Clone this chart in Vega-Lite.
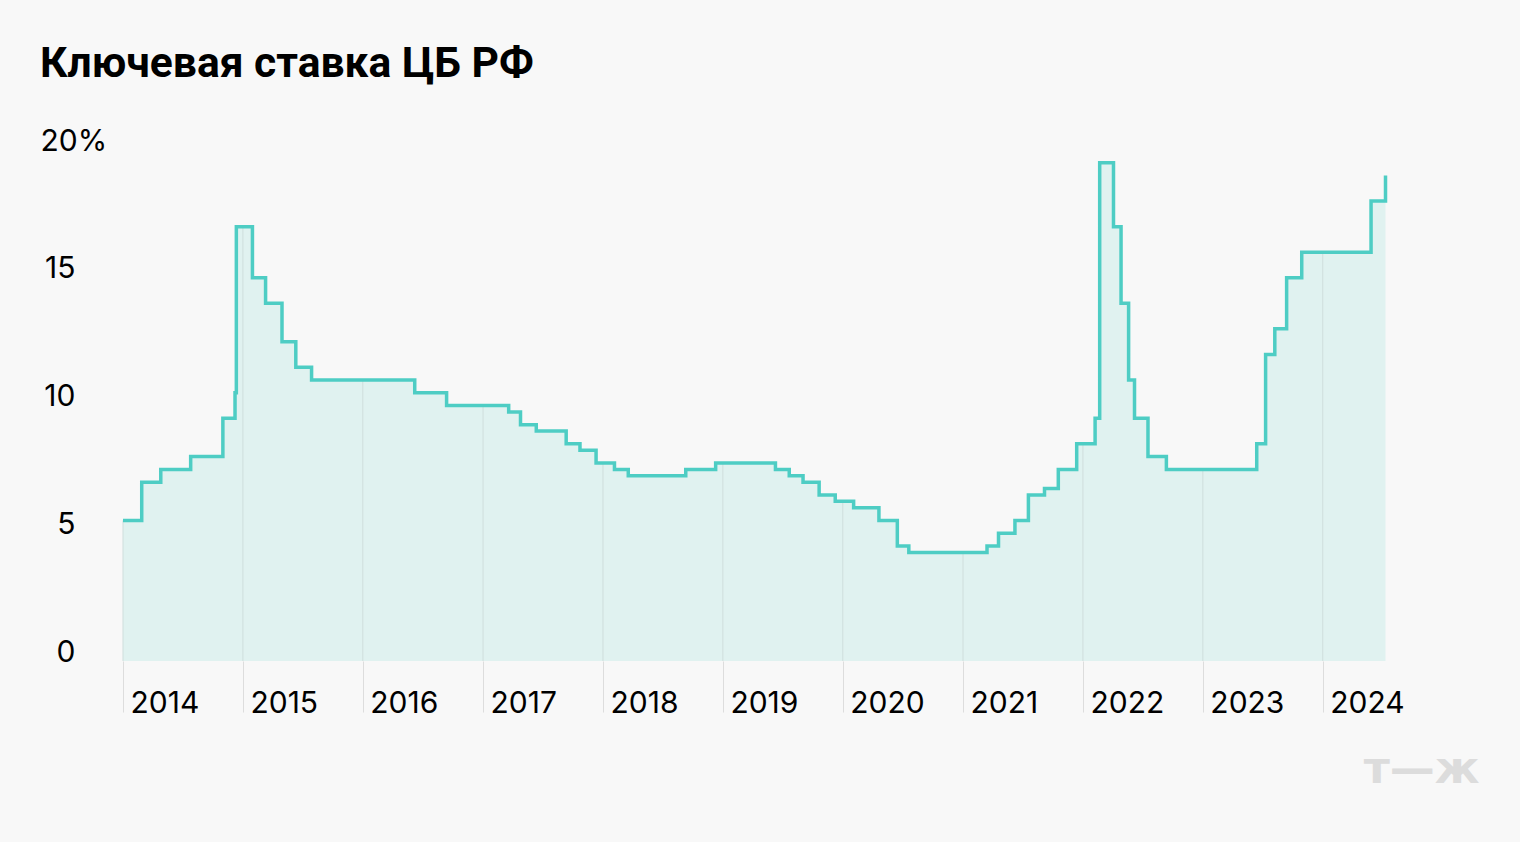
{
  "$schema": "https://vega.github.io/schema/vega-lite/v6.json",
  "width": 1320,
  "height": 511,
  "autosize": {"type": "none"},
  "padding": {"left": 123, "top": 150, "right": 77, "bottom": 181},
  "background": "#f8f8f8",
  "config": {"view": {"stroke": null}, "font": "Roboto"},
  "title": {
    "text": "Ключевая ставка ЦБ РФ",
    "anchor": "start",
    "frame": "bounds",
    "fontSize": 42.6,
    "fontWeight": "bold",
    "font": "Roboto",
    "color": "#000000",
    "baseline": "alphabetic",
    "offset": 6
  },
  "datasets": {
    "rate": [
      {"date": "2014-01-01", "rate": 5.5},
      {"date": "2014-02-27", "rate": 7.0},
      {"date": "2014-04-26", "rate": 7.5},
      {"date": "2014-07-26", "rate": 8.0},
      {"date": "2014-11-01", "rate": 9.5},
      {"date": "2014-12-08", "rate": 10.5},
      {"date": "2014-12-12", "rate": 17.0},
      {"date": "2015-01-30", "rate": 15.0},
      {"date": "2015-03-11", "rate": 14.0},
      {"date": "2015-04-30", "rate": 12.5},
      {"date": "2015-06-11", "rate": 11.5},
      {"date": "2015-07-29", "rate": 11.0},
      {"date": "2016-06-07", "rate": 10.5},
      {"date": "2016-09-12", "rate": 10.0},
      {"date": "2017-03-20", "rate": 9.75},
      {"date": "2017-04-25", "rate": 9.25},
      {"date": "2017-06-12", "rate": 9.0},
      {"date": "2017-09-11", "rate": 8.5},
      {"date": "2017-10-23", "rate": 8.25},
      {"date": "2017-12-11", "rate": 7.75},
      {"date": "2018-02-05", "rate": 7.5},
      {"date": "2018-03-19", "rate": 7.25},
      {"date": "2018-09-10", "rate": 7.5},
      {"date": "2018-12-10", "rate": 7.75},
      {"date": "2019-06-10", "rate": 7.5},
      {"date": "2019-07-22", "rate": 7.25},
      {"date": "2019-09-02", "rate": 7.0},
      {"date": "2019-10-21", "rate": 6.5},
      {"date": "2019-12-09", "rate": 6.25},
      {"date": "2020-02-03", "rate": 6.0},
      {"date": "2020-04-20", "rate": 5.5},
      {"date": "2020-06-15", "rate": 4.5},
      {"date": "2020-07-20", "rate": 4.25},
      {"date": "2021-03-15", "rate": 4.5},
      {"date": "2021-04-19", "rate": 5.0},
      {"date": "2021-06-08", "rate": 5.5},
      {"date": "2021-07-19", "rate": 6.5},
      {"date": "2021-09-06", "rate": 6.75},
      {"date": "2021-10-18", "rate": 7.5},
      {"date": "2021-12-13", "rate": 8.5},
      {"date": "2022-02-07", "rate": 9.5},
      {"date": "2022-02-21", "rate": 19.5},
      {"date": "2022-04-04", "rate": 17.0},
      {"date": "2022-04-27", "rate": 14.0},
      {"date": "2022-05-20", "rate": 11.0},
      {"date": "2022-06-07", "rate": 9.5},
      {"date": "2022-07-18", "rate": 8.0},
      {"date": "2022-09-12", "rate": 7.5},
      {"date": "2023-06-14", "rate": 8.5},
      {"date": "2023-07-11", "rate": 12.0},
      {"date": "2023-08-08", "rate": 13.0},
      {"date": "2023-09-13", "rate": 15.0},
      {"date": "2023-10-29", "rate": 16.0},
      {"date": "2024-05-27", "rate": 18.0},
      {"date": "2024-07-10", "rate": 19.0}
    ],
    "grid": [
      {"date": "2014-01-01", "rate": 5.5},
      {"date": "2015-01-01", "rate": 17.0},
      {"date": "2016-01-01", "rate": 11.0},
      {"date": "2017-01-01", "rate": 10.0},
      {"date": "2018-01-01", "rate": 7.75},
      {"date": "2019-01-01", "rate": 7.75},
      {"date": "2020-01-01", "rate": 6.25},
      {"date": "2021-01-01", "rate": 4.25},
      {"date": "2022-01-01", "rate": 8.5},
      {"date": "2023-01-01", "rate": 7.5},
      {"date": "2024-01-01", "rate": 16.0}
    ]
  },
  "encoding": {
    "x": {
      "field": "date",
      "type": "temporal",
      "scale": {
        "type": "utc",
        "domain": [
          {"year": 2014, "month": 1, "date": 1, "utc": true},
          {"year": 2025, "month": 1, "date": 1, "utc": true}
        ]
      },
      "axis": {
        "title": "т—ж",
        "values": [
          {"year": 2014, "month": 1, "date": 1, "utc": true},
          {"year": 2015, "month": 1, "date": 1, "utc": true},
          {"year": 2016, "month": 1, "date": 1, "utc": true},
          {"year": 2017, "month": 1, "date": 1, "utc": true},
          {"year": 2018, "month": 1, "date": 1, "utc": true},
          {"year": 2019, "month": 1, "date": 1, "utc": true},
          {"year": 2020, "month": 1, "date": 1, "utc": true},
          {"year": 2021, "month": 1, "date": 1, "utc": true},
          {"year": 2022, "month": 1, "date": 1, "utc": true},
          {"year": 2023, "month": 1, "date": 1, "utc": true},
          {"year": 2024, "month": 1, "date": 1, "utc": true}
        ],
        "labelExpr": "utcFormat(datum.value, '%Y')",
        "domain": false,
        "grid": false,
        "ticks": true,
        "tickSize": 51,
        "tickColor": "#dddddd",
        "tickWidth": 1,
        "labelAlign": "left",
        "labelBaseline": "alphabetic",
        "labelPadding": 0,
        "labelOffset": 7,
        "labelFontSize": 30,
        "labelFont": "Inter",
        "labelColor": "#000000",
        "labelFlush": false,
        "labelOverlap": false,
        "titleAnchor": "end",
        "titleAlign": "right",
        "titleX": 1356,
        "titleY": 121,
        "titleBaseline": "alphabetic",
        "titleFontSize": 45,
        "titleFontWeight": "bold",
        "titleFont": "DejaVu Sans",
        "titleColor": "#dcdcdc"
      }
    },
    "y": {
      "field": "rate",
      "type": "quantitative",
      "scale": {"domain": [0, 20], "nice": false, "zero": true},
      "axis": {
        "title": null,
        "values": [0, 5, 10, 15, 20],
        "domain": false,
        "ticks": false,
        "grid": false,
        "labelAlign": {"condition": {"test": "datum.value == 20", "value": "left"}, "value": "right"},
        "labelPadding": {"condition": {"test": "datum.value == 20", "value": 83}, "value": 48},
        "labelBaseline": "alphabetic",
        "labelFontSize": 30,
        "labelFont": "Inter",
        "labelColor": "#000000",
        "labelFlush": false,
        "labelOverlap": false,
        "labelExpr": "datum.value == 20 ? '20%' : datum.label"
      }
    }
  },
  "layer": [
    {
      "data": {"name": "rate"},
      "mark": {"type": "area", "interpolate": "step-after", "color": "#e0f2f0"}
    },
    {
      "data": {"name": "grid"},
      "mark": {"type": "rule", "color": "#cfdedc", "strokeWidth": 1},
      "encoding": {
        "y": {"datum": 0, "type": "quantitative"},
        "y2": {"field": "rate"}
      }
    },
    {
      "data": {"name": "rate"},
      "mark": {"type": "line", "interpolate": "step-after", "color": "#4ecdc4", "strokeWidth": 3.5}
    }
  ]
}
